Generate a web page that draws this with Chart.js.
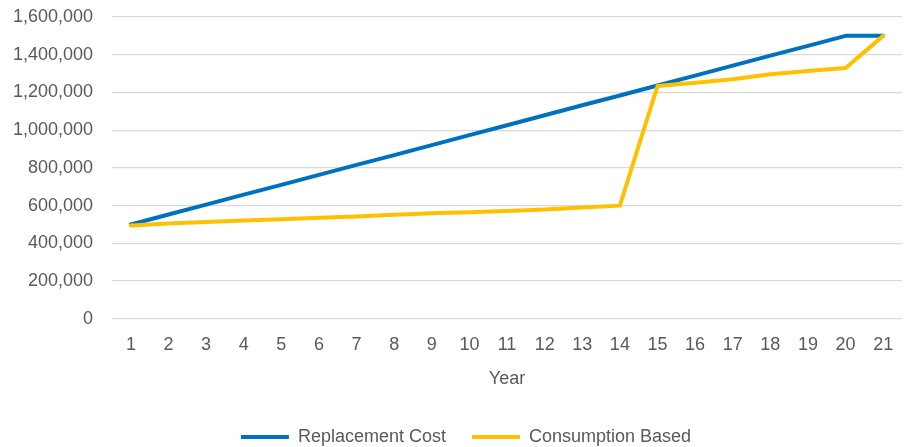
<!DOCTYPE html>
<html>
<head>
<meta charset="utf-8">
<script src="https://cdn.jsdelivr.net/npm/chart.js@4/dist/chart.umd.min.js"></script>
<style>
	html, body { margin: 0; padding: 0; background: #fff; }
	#wrap { width: 904px; height: 447px; }
</style>
</head>
<body>
<div id="wrap"><canvas id="canvas" width="904" height="447"></canvas></div>
<script>
// Data
const years = ['1', '2', '3', '4', '5', '6', '7', '8', '9', '10', '11', '12', '13', '14', '15', '16', '17', '18', '19', '20', '21'];
const replacementCost = [500000, 553000, 605000, 658000, 710000, 763000, 816000, 868000, 921000, 974000, 1026000,
	1079000, 1132000, 1184000, 1237000, 1289000, 1342000, 1395000, 1447000, 1500000, 1500000];
const consumptionBased = [495000, 505000, 513000, 521000, 528000, 536000, 543000, 551000, 559000, 565000, 571000,
	580000, 590000, 600000, 1234000, 1252000, 1270000, 1296000, 1314000, 1330000, 1500000];
const seriesNames = ['Replacement Cost', 'Consumption Based'];
const yTicks = [0, 200000, 400000, 600000, 800000, 1000000, 1200000, 1400000, 1600000];

const textColor = '#595959';
const font = { family: "'Liberation Sans', Arial, sans-serif", size: 18 };

const context = document.getElementById('canvas').getContext('2d');
const baseLabels = Chart.defaults.plugins.legend.labels.generateLabels;

// nudge the legend a bit to the right, like the original
const legendShift = {
	id: 'legendShift',
	afterLayout: (chart) => {
		if (chart.legend) {
			chart.legend.left += 10;
			chart.legend.right += 10;
		}
	}
};

new Chart(context, {
	type: 'line',
	data: {
		labels: years,
		datasets: [
			{
				label: seriesNames[0],
				data: replacementCost,
				borderColor: '#0070C0',
				backgroundColor: '#0070C0',
				order: 1
			},
			{
				label: seriesNames[1],
				data: consumptionBased,
				borderColor: '#FFC000',
				backgroundColor: '#FFC000',
				order: 0 // drawn on top
			}
		]
	},
	plugins: [legendShift],
	options: {
		responsive: false,
		animation: false,
		layout: { padding: { left: 10, right: 2, top: 17, bottom: -9 } },
		elements: {
			line: { borderWidth: 4, tension: 0, borderJoinStyle: 'round', borderCapStyle: 'round' },
			point: { radius: 0, hoverRadius: 0 }
		},
		scales: {
			x: {
				offset: true,
				grid: { display: false },
				border: { display: false },
				ticks: { color: textColor, font: font, padding: 7, maxRotation: 0, autoSkip: false },
				title: { display: true, text: 'Year', color: textColor, font: font, padding: { top: 6, bottom: 12 } }
			},
			y: {
				min: 0,
				max: 1600000,
				afterBuildTicks: (axis) => { axis.ticks = yTicks.map(v => ({ value: v })); },
				// invisible tick marks give the gap between labels and grid
				grid: { color: '#d9d9d9', lineWidth: 1.3, drawTicks: true, tickLength: 16, tickColor: 'rgba(0,0,0,0)' },
				border: { display: false },
				ticks: {
					color: textColor,
					font: font,
					padding: 3,
					callback: (v) => v.toLocaleString('en-US')
				}
			}
		},
		plugins: {
			tooltip: { enabled: false },
			legend: {
				position: 'bottom',
				labels: {
					color: textColor,
					font: font,
					boxWidth: 48,
					boxHeight: 4,
					padding: 26,
					sort: (a, b) => a.datasetIndex - b.datasetIndex,
					generateLabels: (chart) => baseLabels(chart).map(item => ({ ...item, lineWidth: 0 }))
				}
			}
		}
	}
});
</script>
</body>
</html>
